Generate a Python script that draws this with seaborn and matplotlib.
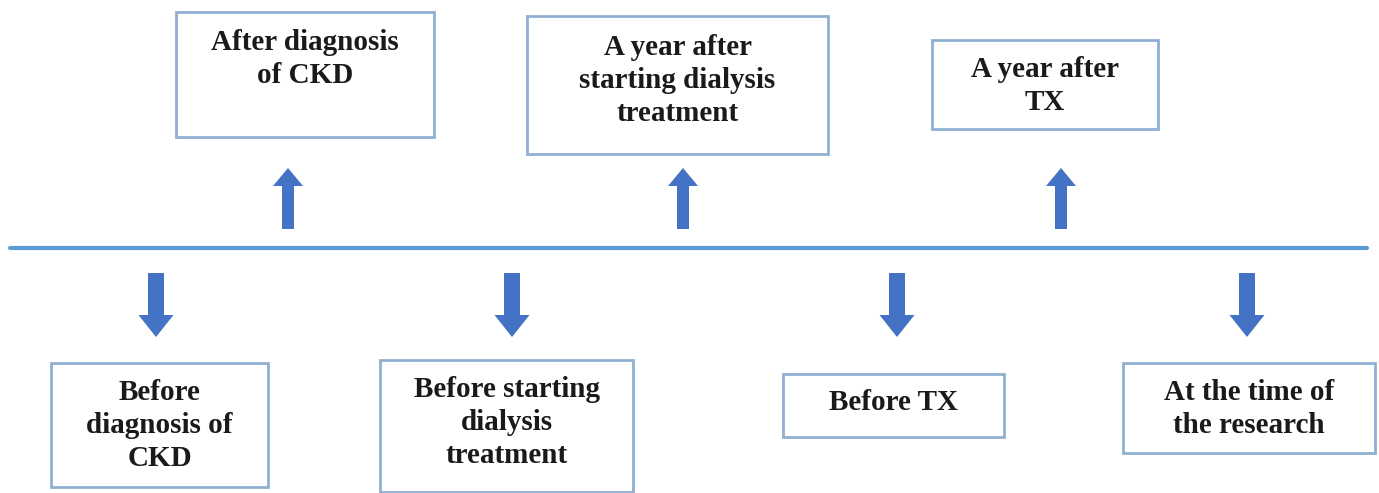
import matplotlib
matplotlib.use("Agg")
import matplotlib.pyplot as plt
from matplotlib.patches import Rectangle
import seaborn as sns
import pandas as pd

# labels of the timeline stages
top_labels = ["After diagnosis\nof CKD",
              "A year after\nstarting dialysis\ntreatment",
              "A year after\nTX"]
bottom_labels = ["Before\ndiagnosis of\nCKD",
                 "Before starting\ndialysis\ntreatment",
                 "Before TX",
                 "At the time of\nthe research"]

# layout (pixel coords of the picture)
top_boxes = [(176, 12, 258, 125), (527, 16, 301, 138), (932, 40, 226, 89)]
top_baseline = [50, 55, 77]
top_arrow_x = [288, 683, 1061]
bottom_boxes = [(51, 363, 217, 124), (380, 360, 253, 132), (783, 374, 221, 63), (1123, 363, 252, 90)]
bottom_baseline = [400, 397, 410, 400]
bottom_arrow_x = [156, 512, 897, 1247]
LINE_STEP = 33

line_df = pd.DataFrame({"x": [10, 1367], "y": [248, 248]})

LINE_C = "#5b9bd5"
ARROW_C = "#4472c4"
BOX_C = "#8fb0d3"

sns.set_theme(style="white")
plt.rcParams["font.family"] = ["Liberation Serif", "DejaVu Serif"]

fig = plt.figure(figsize=(13.79, 4.93), dpi=100)
ax = fig.add_axes([0, 0, 1, 1])
ax.set_xlim(0, 1379)
ax.set_ylim(493, 0)
ax.axis("off")

sns.lineplot(data=line_df, x="x", y="y", color=LINE_C, linewidth=3, ax=ax)


def draw_box(box, label, base):
    x, y, w, h = box
    ax.add_patch(Rectangle((x, y), w, h, facecolor="white", edgecolor=BOX_C, linewidth=2))
    for i, line in enumerate(label.split("\n")):
        ax.text(x + w / 2, base + i * LINE_STEP, line, ha="center", va="baseline",
                fontsize=21, fontweight="bold", color="#1a1a1a")


for box, label, base in zip(top_boxes, top_labels, top_baseline):
    draw_box(box, label, base)

for box, label, base in zip(bottom_boxes, bottom_labels, bottom_baseline):
    draw_box(box, label, base)

for ax_x in top_arrow_x:
    ax.arrow(ax_x, 229, 0, -61, width=12, head_width=30, head_length=18,
             length_includes_head=True, color=ARROW_C, linewidth=0)

for ax_x in bottom_arrow_x:
    ax.arrow(ax_x, 273, 0, 64, width=16, head_width=35, head_length=22,
             length_includes_head=True, color=ARROW_C, linewidth=0)

fig.savefig("out.png", dpi=100)
